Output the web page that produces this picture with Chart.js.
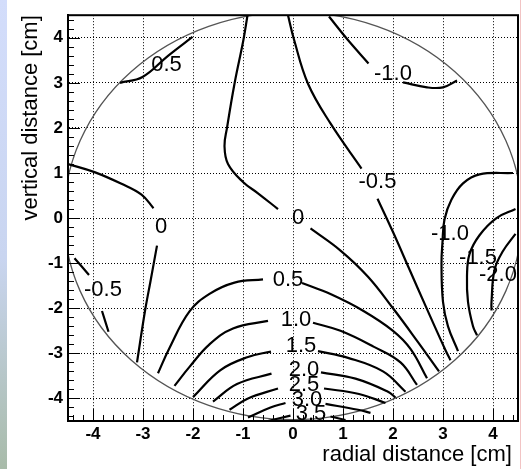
<!DOCTYPE html>
<html>
<head>
<meta charset="utf-8">
<script src="https://cdn.jsdelivr.net/npm/chart.js@4.4.0/dist/chart.umd.min.js"></script>
<style>
  html, body { margin: 0; padding: 0; background: #fff; }
  #wrap { position: relative; width: 521px; height: 469px; overflow: hidden; }
  #strip { position: absolute; left: 0; top: 0; width: 7px; height: 469px;
           background: linear-gradient(#d3ddfb, #c9d5f0 55%, #a8bba9); }
  #edge { position: absolute; left: 520px; top: 0; width: 1px; height: 469px; background: #f2c4c4; }
  canvas { position: absolute; left: 0; top: 0; }
</style>
</head>
<body>
<div id="wrap">
  <div id="strip"></div>
  <div id="edge"></div>
  <canvas id="contourChart" width="521" height="469"></canvas>
</div>
<script>
// Contour map across the circular aperture

const xTickValues = [-4, -3, -2, -1, 0, 1, 2, 3, 4];
const yTickValues = [-4, -3, -2, -1, 0, 1, 2, 3, 4];
const minorStep = 0.2;

// contour segments as [x, y] in cm (broken where a label sits)
const c05TopLeft  = [[-2.01, 4.02], [-2.5, 3.6], [-3.01, 3.13], [-3.46, 3.0]];
const cm10TopA    = [[0.72, 4.47], [1.09, 3.96], [1.51, 3.43]];
const cm10TopB    = [[2.2, 3.01], [2.68, 2.9], [3.0, 2.9], [3.28, 3.05]];
const cm05Upper   = [[-0.1, 4.5], [0.02, 3.96], [0.3, 2.98], [0.75, 2.1], [1.37, 1.1]];
const cm05Lower   = [[1.69, 0.43], [2.0, -0.31], [2.33, -1.14], [2.66, -1.97], [3.05, -2.93], [3.15, -3.15]];
const c0LeftA     = [[-4.5, 1.2], [-3.97, 1.02], [-3.43, 0.76], [-3.03, 0.52], [-2.79, 0.22]];
const c0LeftB     = [[-2.72, -0.61], [-2.85, -1.4], [-2.96, -2.06], [-3.12, -3.2]];
const c0CenterA   = [[-0.91, 4.5], [-0.99, 3.96], [-1.17, 2.98], [-1.32, 2.0], [-1.37, 1.6], [-1.3, 1.2],
                     [-1.0, 0.8], [-0.7, 0.55], [-0.3, 0.2]];
const c0CenterB   = [[0.35, -0.23], [0.95, -0.72], [1.5, -1.3], [2.0, -2.0], [2.5, -2.75], [2.92, -3.4]];
const c05BotA     = [[-2.7, -3.44], [-2.47, -2.88], [-2.07, -2.07], [-1.67, -1.68], [-1.17, -1.43], [-0.6, -1.36]];
const c05BotB     = [[0.18, -1.44], [0.76, -1.69], [1.41, -2.06], [2.0, -2.5], [2.35, -2.9], [2.68, -3.55]];
const c10A        = [[-2.37, -3.72], [-2.07, -3.3], [-1.67, -2.8], [-1.2, -2.45], [-0.5, -2.28]];
const c10B        = [[0.4, -2.32], [0.95, -2.5], [1.61, -2.85], [2.15, -3.2], [2.48, -3.7]];
const c15A        = [[-2.0, -3.97], [-1.45, -3.37], [-0.9, -3.08], [-0.44, -2.96]];
const c15B        = [[0.5, -2.95], [1.1, -3.1], [1.8, -3.4], [2.25, -3.85]];
const c20A        = [[-1.6, -4.07], [-1.12, -3.68], [-0.43, -3.45]];
const c20B        = [[0.56, -3.42], [1.25, -3.56], [1.9, -3.85], [2.05, -3.98]];
const c25A        = [[-1.27, -4.25], [-0.9, -4.0], [-0.3, -3.78]];
const c25B        = [[0.62, -3.78], [1.32, -3.9], [1.85, -4.1]];
const c30A        = [[-0.9, -4.42], [-0.45, -4.2], [-0.15, -4.1]];
const c30B        = [[0.65, -4.12], [1.3, -4.25], [1.55, -4.32]];
const c35A        = [[-0.5, -4.5], [-0.05, -4.38]];
const c35B        = [[0.75, -4.4], [1.05, -4.48]];
const cm05LeftA   = [[-4.37, -0.89], [-4.08, -1.26]];
const cm05LeftB   = [[-3.82, -2.06], [-3.69, -2.52]];
const cm10Right   = [[4.4, 1.0], [3.73, 0.97], [3.4, 0.77], [3.17, 0.41], [3.03, -0.03], [2.99, -0.53],
                     [2.97, -1.01], [3.0, -1.86], [3.1, -2.4], [3.3, -2.95]];
const cm15Right   = [[4.45, 0.2], [4.07, 0.0], [3.73, -0.38], [3.53, -0.8], [3.48, -1.29], [3.5, -1.86],
                     [3.6, -2.4], [3.68, -2.6]];
const cm20Right   = [[4.45, -0.35], [4.2, -0.73], [4.03, -1.15], [3.97, -1.86], [3.97, -2.05]];

const contourSegments = [
  c05TopLeft, cm10TopA, cm10TopB, cm05Upper, cm05Lower, c0LeftA, c0LeftB, c0CenterA, c0CenterB,
  c05BotA, c05BotB, c10A, c10B, c15A, c15B, c20A, c20B, c25A, c25B, c30A, c30B, c35A, c35B,
  cm05LeftA, cm05LeftB, cm10Right, cm15Right, cm20Right
];

// contour labels: text, x, y
const labelTexts = ['0.5', '-1.0', '-0.5', '0', '0', '-0.5', '0.5', '1.0', '1.5', '2.0', '2.5', '3.0', '3.5', '-1.0', '-1.5', '-2.0'];
const labelX     = [-2.53, 2.0, 1.69, -2.64, 0.1, -3.8, -0.1, 0.06, 0.16, 0.22, 0.22, 0.28, 0.36, 3.14, 3.7, 4.1];
const labelY     = [3.4, 3.2, 0.8, -0.2, 0.0, -1.6, -1.37, -2.25, -2.83, -3.36, -3.7, -4.04, -4.35, -0.36, -0.88, -1.27];

// aperture outline (cm)
const aperture = { cx: 0, cy: 0.05, rx: 4.58, ry: 4.52 };

const FONT = '"Liberation Sans", Arial, Helvetica, sans-serif';

const contourDecor = {
  id: 'contourDecor',
  beforeDatasetsDraw(chart) {
    const { ctx, chartArea: a, scales: { x, y } } = chart;
    ctx.save();
    ctx.beginPath();
    ctx.rect(a.left, a.top, a.right - a.left, a.bottom - a.top);
    ctx.clip();
    const cx = x.getPixelForValue(aperture.cx);
    const cy = y.getPixelForValue(aperture.cy);
    const rx = Math.abs(x.getPixelForValue(aperture.cx + aperture.rx) - cx);
    const ry = Math.abs(y.getPixelForValue(aperture.cy + aperture.ry) - cy);
    ctx.beginPath();
    ctx.ellipse(cx, cy, rx, ry, 0, 0, Math.PI * 2);
    ctx.strokeStyle = '#555';
    ctx.lineWidth = 1.3;
    ctx.stroke();
    ctx.restore();
  },
  afterDraw(chart) {
    const { ctx, chartArea: a, scales: { x, y } } = chart;
    ctx.save();
    ctx.strokeStyle = '#000';
    ctx.lineWidth = 1;

    // inward tick marks, major every 1 cm and minor every 0.2 cm
    const isMajor = v => Math.abs(v - Math.round(v)) < 1e-6;
    for (let i = Math.ceil(x.min / minorStep); i * minorStep <= x.max + 1e-9; i++) {
      const v = i * minorStep;
      const px = Math.round(x.getPixelForValue(v)) + 0.5;
      const len = isMajor(v) ? 12 : 6;
      ctx.beginPath();
      ctx.moveTo(px, a.bottom);
      ctx.lineTo(px, a.bottom - len);
      ctx.stroke();
    }
    for (let i = Math.ceil(y.min / minorStep); i * minorStep <= y.max + 1e-9; i++) {
      const v = i * minorStep;
      const py = Math.round(y.getPixelForValue(v)) + 0.5;
      const len = isMajor(v) ? 12 : 6;
      ctx.beginPath();
      ctx.moveTo(a.left, py);
      ctx.lineTo(a.left + len, py);
      ctx.stroke();
    }

    // frame
    ctx.lineWidth = 2;
    ctx.strokeRect(a.left, a.top, a.right - a.left, a.bottom - a.top);

    // contour labels
    ctx.fillStyle = '#000';
    ctx.font = '22px ' + FONT;
    ctx.textAlign = 'center';
    ctx.textBaseline = 'middle';
    labelTexts.forEach((t, i) => {
      ctx.fillText(t, x.getPixelForValue(labelX[i]), y.getPixelForValue(labelY[i]));
    });
    ctx.restore();
  }
};

function makeDatasets() {
  return contourSegments.map(seg => ({
    data: seg.map(p => ({ x: p[0], y: p[1] })),
    showLine: true,
    borderColor: '#000',
    borderWidth: 2.2,
    pointRadius: 0,
    tension: 0.4,
    fill: false
  }));
}

function axisOptions(title, tickValues, isX) {
  return {
    type: 'linear',
    min: -4.5,
    max: 4.5,
    afterBuildTicks: scale => { scale.ticks = tickValues.map(v => ({ value: v })); },
    afterFit: scale => {
      if (isX) scale.height = 48; else scale.width = 68;
    },
    ticks: {
      color: '#000',
      font: { family: FONT, size: 17, weight: 'bold' },
      padding: isX ? 3 : 5,
      callback: v => String(v)
    },
    grid: { color: '#000', lineWidth: 1, drawTicks: false },
    border: { display: true, color: '#000', width: 2, dash: [1, 2] },
    title: {
      display: true,
      text: isX ? title + '\u00a0' : title,
      align: 'end',
      color: '#000',
      font: { family: FONT, size: 22 },
      padding: isX ? { top: 0, bottom: 1 } : { top: 18, bottom: 0 }
    }
  };
}

const chart = new Chart(document.getElementById('contourChart'), {
  type: 'scatter',
  data: { datasets: makeDatasets() },
  options: {
    responsive: false,
    animation: false,
    layout: { padding: { top: 7, right: 3, left: 0, bottom: 0 } },
    plugins: { legend: { display: false }, tooltip: { enabled: false } },
    scales: {
      x: axisOptions('radial distance [cm]', xTickValues, true),
      y: axisOptions('vertical distance [cm]', yTickValues, false)
    }
  },
  plugins: [contourDecor]
});
</script>
</body>
</html>
